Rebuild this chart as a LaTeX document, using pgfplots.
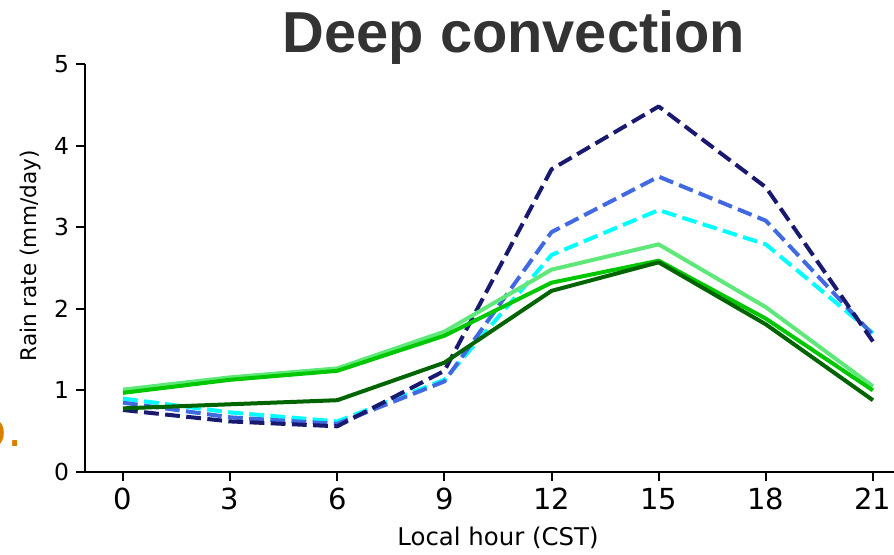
\documentclass[border=0pt]{standalone}
\usepackage{fontspec}
\setmainfont{DejaVu Sans}
\newfontfamily\titlefont{Liberation Sans}
\usepackage{pgfplots}
\pgfplotsset{compat=1.18}

\definecolor{cnavy}{RGB}{25,25,112}
\definecolor{cblue}{RGB}{65,105,225}
\definecolor{ccyan}{RGB}{0,255,255}
\definecolor{clgreen}{RGB}{95,232,122}
\definecolor{cgreen}{RGB}{0,200,0}
\definecolor{cdgreen}{RGB}{0,100,0}
\definecolor{borange}{RGB}{217,128,0}
\definecolor{titlegray}{RGB}{51,51,51}

\begin{document}
\begin{tikzpicture}
\begin{axis}[
    scale only axis,
    width=404.5pt, height=204pt,
    xmin=-1.064, xmax=21.59,
    ymin=0, ymax=5,
    axis x line*=bottom, axis y line*=left,
    axis line style={line width=1pt},
    xtick={0,3,...,21}, ytick={0,1,...,5},
    tick align=outside,
    major tick length=4.5pt,
    every tick/.style={black, line width=1pt},
    /pgf/number format/assume math mode=true,
    xticklabel style={font=\fontsize{14.5}{16}\selectfont},
    yticklabel style={font=\fontsize{11.7}{13}\selectfont},
    clip=false,
    every axis plot/.append style={line width=2pt, line join=round},
    dashstyle/.style={dash pattern=on 7.4pt off 3.2pt},
]
\addplot[ccyan, dashstyle] coordinates {(0,0.90) (3,0.73) (6,0.62) (9,1.13) (12,2.66) (15,3.21) (18,2.79) (21,1.70)};
\addplot[cblue, dashstyle] coordinates {(0,0.85) (3,0.67) (6,0.59) (9,1.11) (12,2.94) (15,3.62) (18,3.08) (21,1.68)};
\addplot[cnavy, dashstyle] coordinates {(0,0.76) (3,0.62) (6,0.56) (9,1.24) (12,3.71) (15,4.48) (18,3.49) (21,1.60)};
\addplot[clgreen] coordinates {(0,1.01) (3,1.16) (6,1.27) (9,1.72) (12,2.48) (15,2.79) (18,2.02) (21,1.05)};
\addplot[cgreen] coordinates {(0,0.97) (3,1.13) (6,1.24) (9,1.67) (12,2.32) (15,2.59) (18,1.88) (21,1.00)};
\addplot[cdgreen] coordinates {(0,0.78) (3,0.83) (6,0.88) (9,1.34) (12,2.22) (15,2.57) (18,1.81) (21,0.88)};
\end{axis}
% labels (1px = 0.5pt, origin at axis lower left)
\node[font=\titlefont\bfseries\fontsize{28.9}{32}\selectfont, text=titlegray, anchor=base] at (214.5pt,210pt) {Deep convection};
\node[font=\fontsize{12.2}{14}\selectfont, anchor=base] at (206.5pt,-36.5pt) {Local hour (CST)};
\node[font=\fontsize{10.8}{12}\selectfont, anchor=base, rotate=90] at (-24pt,108pt) {Rain rate (mm/day)};
\node[font=\fontsize{24}{28}\selectfont, text=borange, anchor=base east, inner sep=0pt] at (-31pt,13pt) {b.};
\pgfresetboundingbox
\path[use as bounding box] (-42.5pt,-41pt) rectangle (404.5pt,236pt);
\end{tikzpicture}
\end{document}
